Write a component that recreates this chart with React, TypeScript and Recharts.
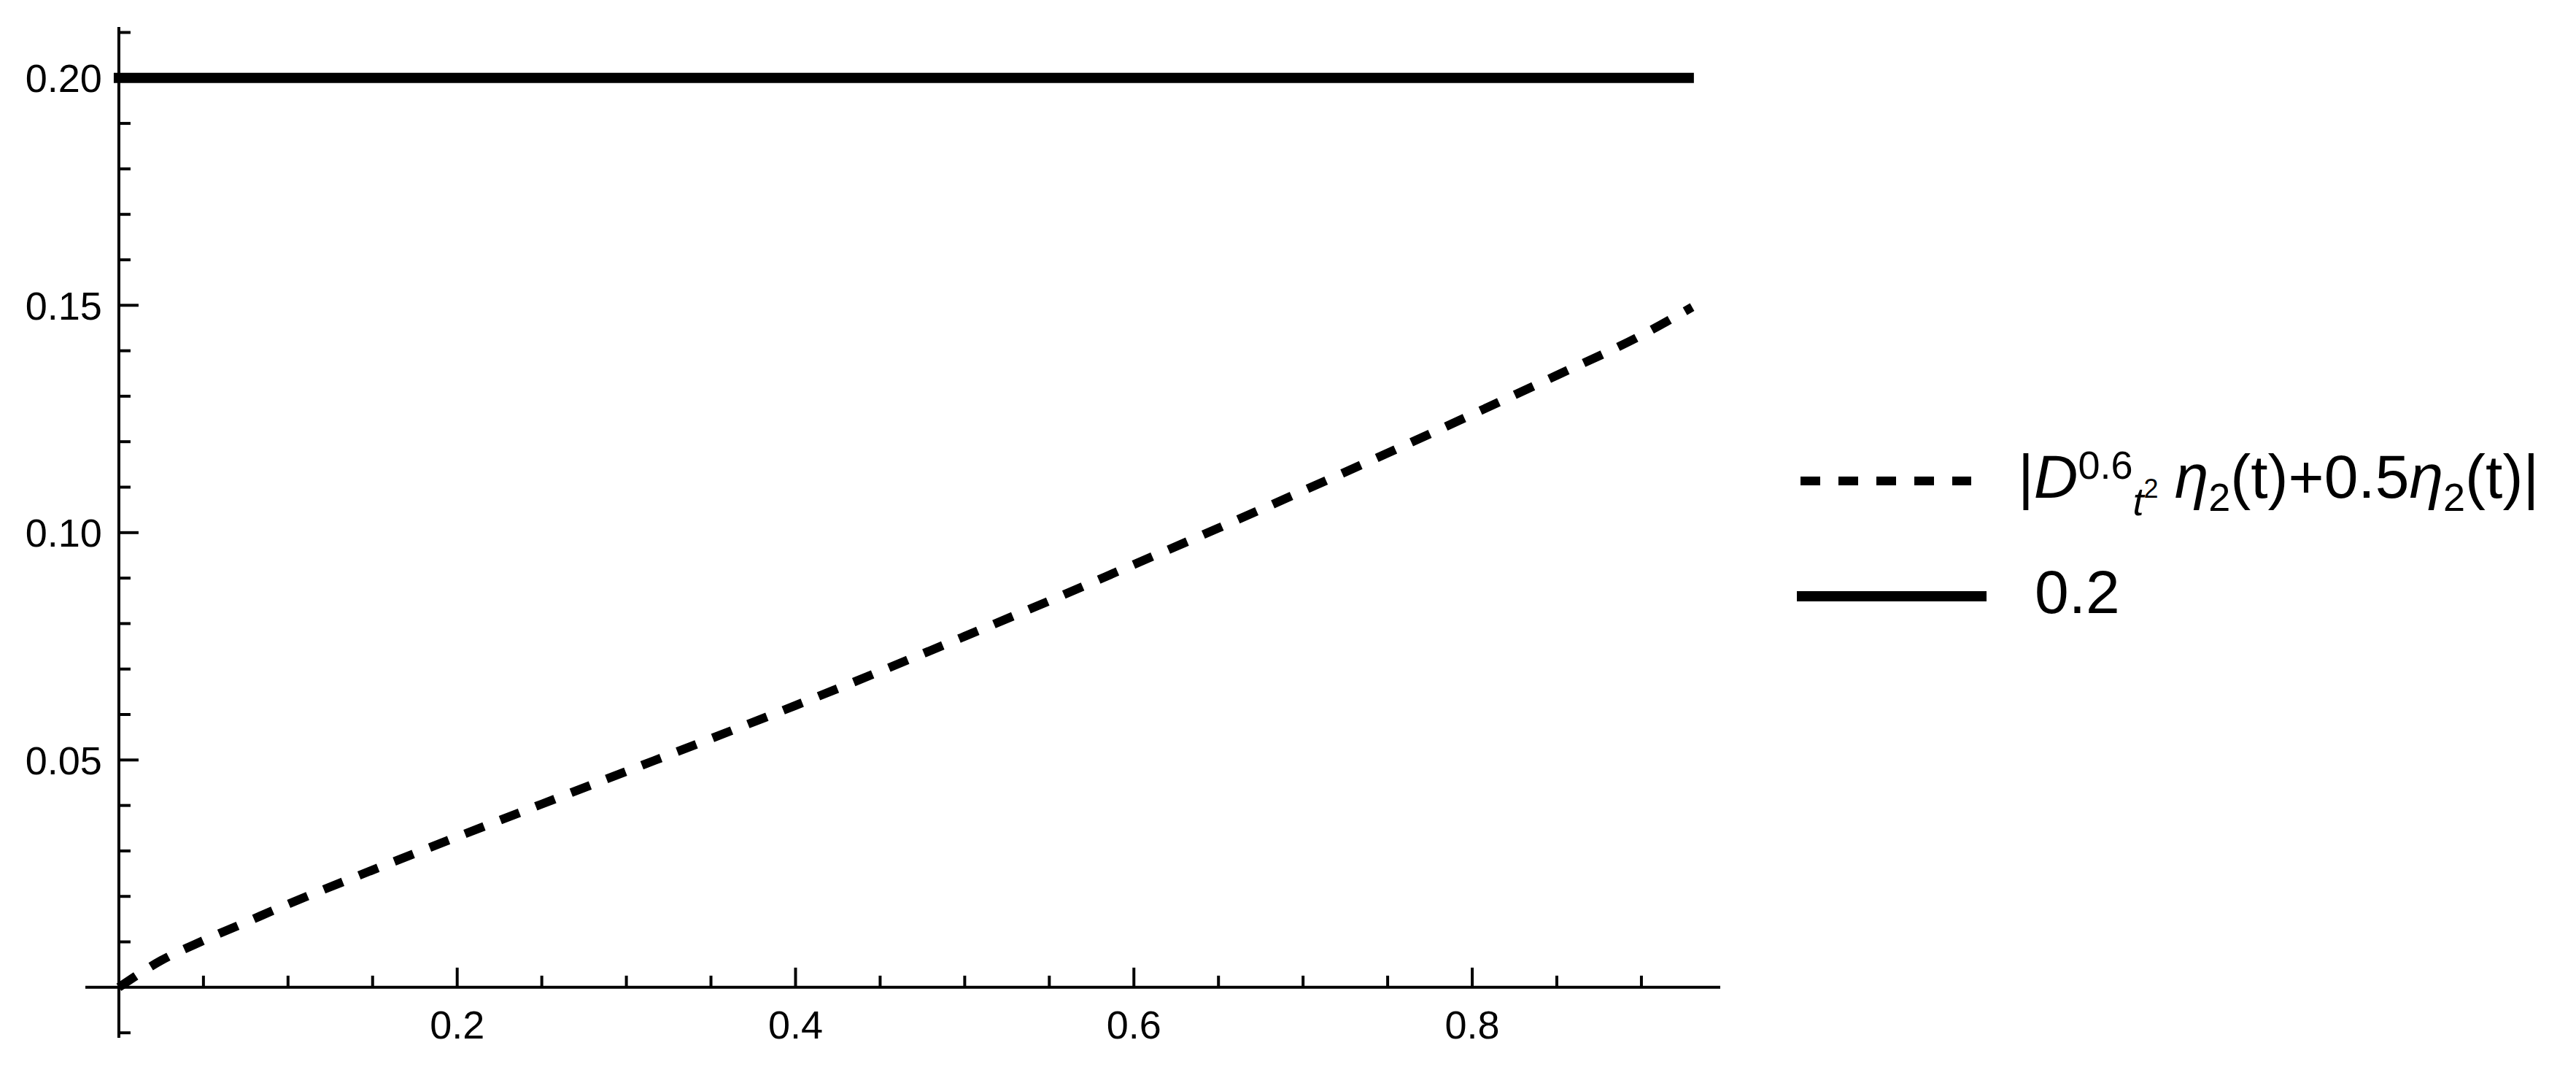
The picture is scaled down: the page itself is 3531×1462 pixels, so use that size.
import React from 'react';
import { LineChart, Line, XAxis, YAxis, ReferenceLine, ReferenceDot, Legend } from 'recharts';

// ---------- data ----------
const tValues = [0, 0.025, 0.05, 0.075, 0.1, 0.15, 0.2, 0.25, 0.3, 0.35, 0.4, 0.45, 0.5, 0.55, 0.6, 0.65, 0.7, 0.75, 0.8, 0.85, 0.9, 0.93];
const curveValues = [0, 0.0059, 0.0103, 0.0143, 0.0183, 0.0258, 0.0331, 0.0403, 0.0475, 0.0547, 0.062, 0.0695, 0.0772, 0.085, 0.093, 0.101, 0.1092, 0.1175, 0.126, 0.1346, 0.1434, 0.1496];
const boundT = [0, 0.928];
const boundValues = [0.2, 0.2];

const xMajorTicks = [0.2, 0.4, 0.6, 0.8];
const xMajorLabels = ['0.2', '0.4', '0.6', '0.8'];
const xMinorTicks = [0.05, 0.1, 0.15, 0.25, 0.3, 0.35, 0.45, 0.5, 0.55, 0.65, 0.7, 0.75, 0.85, 0.9];
const yMajorTicks = [0.05, 0.1, 0.15, 0.2];
const yMajorLabels = ['0.05', '0.10', '0.15', '0.20'];
const yMinorTicks = [-0.01, 0.01, 0.02, 0.03, 0.04, 0.06, 0.07, 0.08, 0.09, 0.11, 0.12, 0.13, 0.14, 0.16, 0.17, 0.18, 0.19, 0.21];

const seriesNames = ['|D0.6t2 η2(t)+0.5η2(t)|', '0.2'];
const boundLabel = '0.2';

const curveData = tValues.map((t, i) => ({ t, v: curveValues[i] }));
const boundData = boundT.map((t, i) => ({ t, v: boundValues[i] }));

const FONT = '"Liberation Sans", Arial, sans-serif';

const xTickShape = (len: number, label?: string) => (p: any) => (
  <g>
    <line x1={p.cx} y1={p.cy} x2={p.cx} y2={p.cy - len} stroke="#000" strokeWidth={4} />
    {label ? (
      <text x={p.cx} y={p.cy + 70} textAnchor="middle" fontSize={54} fontFamily={FONT} fill="#000">{label}</text>
    ) : null}
  </g>
);

const yTickShape = (len: number, label?: string) => (p: any) => (
  <g>
    <line x1={p.cx} y1={p.cy} x2={p.cx + len} y2={p.cy} stroke="#000" strokeWidth={4} />
    {label ? (
      <text x={p.cx - 23} y={p.cy + 19.5} textAnchor="end" fontSize={54} fontFamily={FONT} fill="#000">{label}</text>
    ) : null}
  </g>
);

const LegendContent = () => (
  <svg width={1091} height={320} style={{ display: 'block', overflow: 'visible' }}>
    <line x1={28} x2={262} y1={79} y2={79} stroke="#000" strokeWidth={12} strokeDasharray="27 25" />
    <text x={326} y={102} fontSize={84} fontFamily={FONT} fill="#000">
      <tspan>|</tspan>
      <tspan fontStyle="italic">D</tspan>
      <tspan fontSize={54} dy={-26}>0.6</tspan>
      <tspan fontSize={54} fontStyle="italic" dy={50}>t</tspan>
      <tspan fontSize={36} dy={-24}>2</tspan>
      <tspan dy={0} dx={22} fontStyle="italic">η</tspan>
      <tspan fontSize={54} dy={18}>2</tspan>
      <tspan dy={-18}>(t)+0.5</tspan>
      <tspan fontStyle="italic">η</tspan>
      <tspan fontSize={54} dy={18}>2</tspan>
      <tspan dy={-18}>(t)|</tspan>
    </text>
    <line x1={23} x2={283} y1={237} y2={237} stroke="#000" strokeWidth={14} />
    <text x={349} y={260} fontSize={84} fontFamily={FONT} fill="#000">{boundLabel}</text>
  </svg>
);

export default function App() {
  return (
    <div style={{ position: 'absolute', left: 0, top: 0, width: 3531, height: 1462, background: '#fff' }}>
      <LineChart width={3531} height={1462} margin={{ top: 37, right: 1173, bottom: 40, left: 117 }}>
        <XAxis type="number" dataKey="t" domain={[-0.0198, 0.9466]} allowDataOverflow hide />
        <YAxis type="number" dataKey="v" domain={[-0.0111, 0.2112]} allowDataOverflow hide />
        <ReferenceLine x={0} stroke="#000" strokeWidth={4} />
        <ReferenceLine y={0} stroke="#000" strokeWidth={4} />
        {xMinorTicks.map((t) => (
          <ReferenceDot key={'xm' + t} x={t} y={0} ifOverflow="visible" shape={xTickShape(16)} />
        ))}
        {xMajorTicks.map((t, i) => (
          <ReferenceDot key={'xM' + t} x={t} y={0} ifOverflow="visible" shape={xTickShape(27, xMajorLabels[i])} />
        ))}
        {yMinorTicks.map((v) => (
          <ReferenceDot key={'ym' + v} x={0} y={v} ifOverflow="visible" shape={yTickShape(16)} />
        ))}
        {yMajorTicks.map((v, i) => (
          <ReferenceDot key={'yM' + v} x={0} y={v} ifOverflow="visible" shape={yTickShape(27, yMajorLabels[i])} />
        ))}
        <Line data={curveData} dataKey="v" name={seriesNames[0]} type="monotone" stroke="#000" strokeWidth={12}
          strokeDasharray="28 24" dot={false} activeDot={false} isAnimationActive={false} />
        <Line data={boundData} dataKey="v" name={seriesNames[1]} type="linear" stroke="#000" strokeWidth={14}
          strokeLinecap="square" dot={false} activeDot={false} isAnimationActive={false} />
        <Legend layout="horizontal" verticalAlign="middle" align="center" content={LegendContent}
          wrapperStyle={{ left: 2440, top: 580, width: 1091, height: 320 }} />
      </LineChart>
    </div>
  );
}
